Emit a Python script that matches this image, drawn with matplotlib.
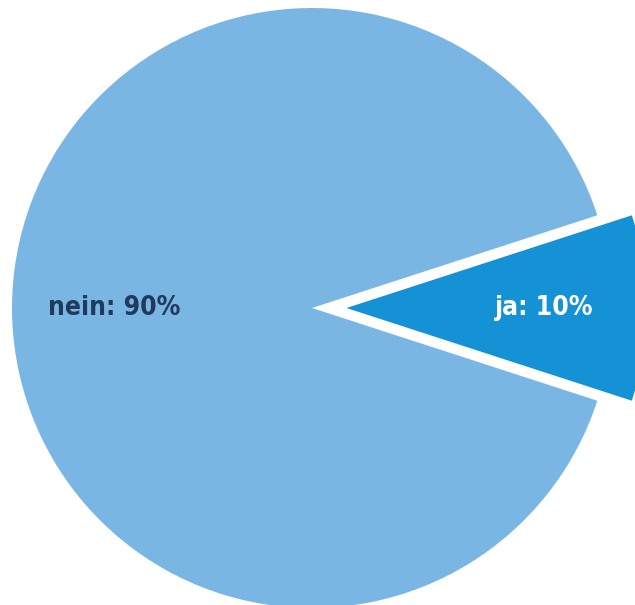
import matplotlib
matplotlib.use('Agg')
from matplotlib import pyplot as plt

labels = ['ja', 'nein']
values = [10, 90]
colors = ['#1592d5', '#7ab6e3']
text_colors = ['white', '#1f3a5c']

fig = plt.figure(figsize=(6.35, 6.05), dpi=100)
ax = fig.add_axes([0, 0, 1, 1])

r_px = 300
wedges, texts = ax.pie(values,
                       labels=[f'{l}: {v}%' for l, v in zip(labels, values)],
                       colors=colors, startangle=-18, counterclock=True,
                       explode=[0.115, 0], labeldistance=0.66,
                       wedgeprops={'linewidth': 0},
                       textprops={'ha': 'center', 'va': 'center', 'fontsize': 19,
                                  'family': 'DejaVu Sans', 'stretch': 'condensed',
                                  'weight': 'bold'})
for t, c in zip(texts, text_colors):
    t.set_color(c)

ax.set_xlim(-312 / r_px, 323 / r_px)
ax.set_ylim(-297 / r_px, 308 / r_px)
ax.set_aspect('equal')
ax.axis('off')

fig.savefig('out.png', dpi=100)
